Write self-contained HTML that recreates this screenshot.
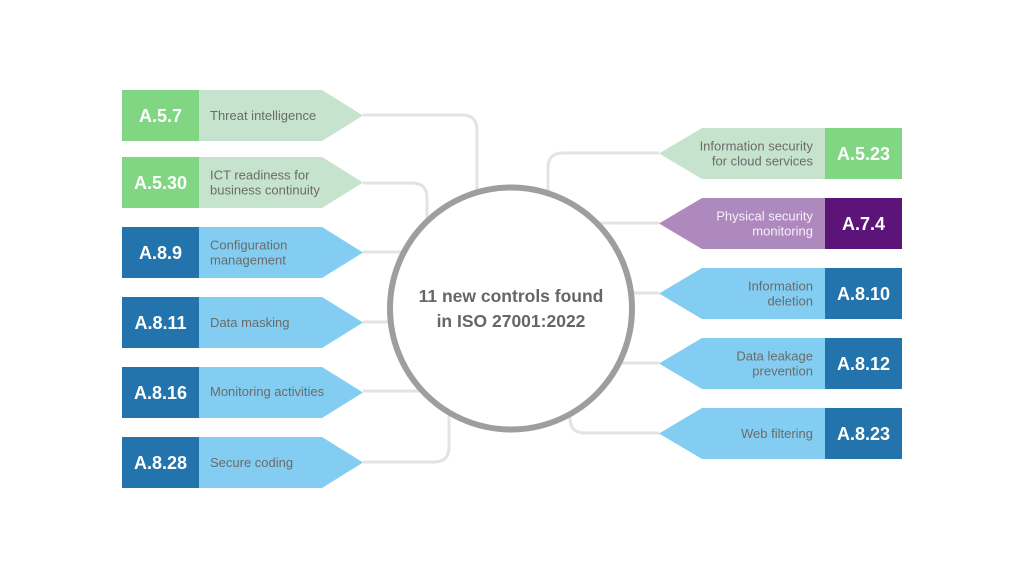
<!DOCTYPE html>
<html>
<head>
<meta charset="utf-8">
<style>
  html, body { margin:0; padding:0; background:#ffffff; }
  body { width:1024px; height:578px; overflow:hidden; }
  svg { display:block; }
  .lbl { font-family:"Liberation Sans", sans-serif; font-size:13px; fill:#6b6b6b; }
  .code { font-family:"Liberation Sans", sans-serif; font-size:18px; font-weight:bold; fill:#ffffff; }
  .ctr { font-family:"Liberation Sans", sans-serif; font-size:17.5px; font-weight:bold; fill:#666666; }
</style>
</head>
<body>
<svg width="1024" height="578" viewBox="0 0 1024 578" xmlns="http://www.w3.org/2000/svg">
  <rect width="1024" height="578" fill="#ffffff"/>

  <!-- connectors -->
  <g fill="none" stroke="#e3e3e3" stroke-width="3">
    <path d="M363,115 H462 Q477,115 477,130 V260"/>
    <path d="M363,183 H412 Q427,183 427,198 V270"/>
    <path d="M363,252 H460"/>
    <path d="M363,322 H460"/>
    <path d="M363,391 H460"/>
    <path d="M363,462 H434 Q449,462 449,447 V370"/>

    <path d="M659,153 H563 Q548,153 548,168 V260"/>
    <path d="M659,223 H560"/>
    <path d="M659,293 H560"/>
    <path d="M659,363 H560"/>
    <path d="M659,433 H585 Q570,433 570,418 V370"/>
  </g>

  <!-- center circle -->
  <circle cx="511" cy="308.5" r="121" fill="#ffffff" stroke="#9e9e9e" stroke-width="6"/>
  <text class="ctr" x="511" y="302" text-anchor="middle">11 new controls found</text>
  <text class="ctr" x="511" y="327" text-anchor="middle">in ISO 27001:2022</text>

  <!-- LEFT rows -->
  <!-- Row 1 -->
  <polygon points="199,90 322,90 363,115.5 322,141 199,141" fill="#c6e4cd"/>
  <rect x="122" y="90" width="77" height="51" fill="#80d682"/>
  <text class="code" x="160.5" y="122" text-anchor="middle">A.5.7</text>
  <text class="lbl" x="210" y="120">Threat intelligence</text>

  <!-- Row 2 -->
  <polygon points="199,157 322,157 363,182.5 322,208 199,208" fill="#c6e4cd"/>
  <rect x="122" y="157" width="77" height="51" fill="#80d682"/>
  <text class="code" x="160.5" y="189" text-anchor="middle">A.5.30</text>
  <text class="lbl" x="210" y="179.5">ICT readiness for</text>
  <text class="lbl" x="210" y="194.5">business continuity</text>

  <!-- Row 3 -->
  <polygon points="199,227 322,227 363,252.5 322,278 199,278" fill="#82cdf1"/>
  <rect x="122" y="227" width="77" height="51" fill="#2374ad"/>
  <text class="code" x="160.5" y="259" text-anchor="middle">A.8.9</text>
  <text class="lbl" x="210" y="249.5">Configuration</text>
  <text class="lbl" x="210" y="264.5">management</text>

  <!-- Row 4 -->
  <polygon points="199,297 322,297 363,322.5 322,348 199,348" fill="#82cdf1"/>
  <rect x="122" y="297" width="77" height="51" fill="#2374ad"/>
  <text class="code" x="160.5" y="329" text-anchor="middle">A.8.11</text>
  <text class="lbl" x="210" y="327">Data masking</text>

  <!-- Row 5 -->
  <polygon points="199,367 322,367 363,392.5 322,418 199,418" fill="#82cdf1"/>
  <rect x="122" y="367" width="77" height="51" fill="#2374ad"/>
  <text class="code" x="160.5" y="399" text-anchor="middle">A.8.16</text>
  <text class="lbl" x="210" y="396">Monitoring activities</text>

  <!-- Row 6 -->
  <polygon points="199,437 322,437 363,462.5 322,488 199,488" fill="#82cdf1"/>
  <rect x="122" y="437" width="77" height="51" fill="#2374ad"/>
  <text class="code" x="160.5" y="469" text-anchor="middle">A.8.28</text>
  <text class="lbl" x="210" y="467">Secure coding</text>

  <!-- RIGHT rows -->
  <!-- Row 1 -->
  <polygon points="659,153.5 702,128 825,128 825,179 702,179" fill="#c6e4cd"/>
  <rect x="825" y="128" width="77" height="51" fill="#80d682"/>
  <text class="code" x="863.5" y="160" text-anchor="middle">A.5.23</text>
  <text class="lbl" x="813" y="150.5" text-anchor="end">Information security</text>
  <text class="lbl" x="813" y="165.5" text-anchor="end">for cloud services</text>

  <!-- Row 2 -->
  <polygon points="659,223.5 702,198 825,198 825,249 702,249" fill="#ae89be"/>
  <rect x="825" y="198" width="77" height="51" fill="#5c1479"/>
  <text class="code" x="863.5" y="230" text-anchor="middle">A.7.4</text>
  <text class="lbl" x="813" y="220.5" text-anchor="end" style="fill:#f6f0fa">Physical security</text>
  <text class="lbl" x="813" y="235.5" text-anchor="end" style="fill:#f6f0fa">monitoring</text>

  <!-- Row 3 -->
  <polygon points="659,293.5 702,268 825,268 825,319 702,319" fill="#82cdf1"/>
  <rect x="825" y="268" width="77" height="51" fill="#2374ad"/>
  <text class="code" x="863.5" y="300" text-anchor="middle">A.8.10</text>
  <text class="lbl" x="813" y="290.5" text-anchor="end">Information</text>
  <text class="lbl" x="813" y="305.5" text-anchor="end">deletion</text>

  <!-- Row 4 -->
  <polygon points="659,363.5 702,338 825,338 825,389 702,389" fill="#82cdf1"/>
  <rect x="825" y="338" width="77" height="51" fill="#2374ad"/>
  <text class="code" x="863.5" y="370" text-anchor="middle">A.8.12</text>
  <text class="lbl" x="813" y="360.5" text-anchor="end">Data leakage</text>
  <text class="lbl" x="813" y="375.5" text-anchor="end">prevention</text>

  <!-- Row 5 -->
  <polygon points="659,433.5 702,408 825,408 825,459 702,459" fill="#82cdf1"/>
  <rect x="825" y="408" width="77" height="51" fill="#2374ad"/>
  <text class="code" x="863.5" y="440" text-anchor="middle">A.8.23</text>
  <text class="lbl" x="813" y="438" text-anchor="end">Web filtering</text>
</svg>
</body>
</html>
